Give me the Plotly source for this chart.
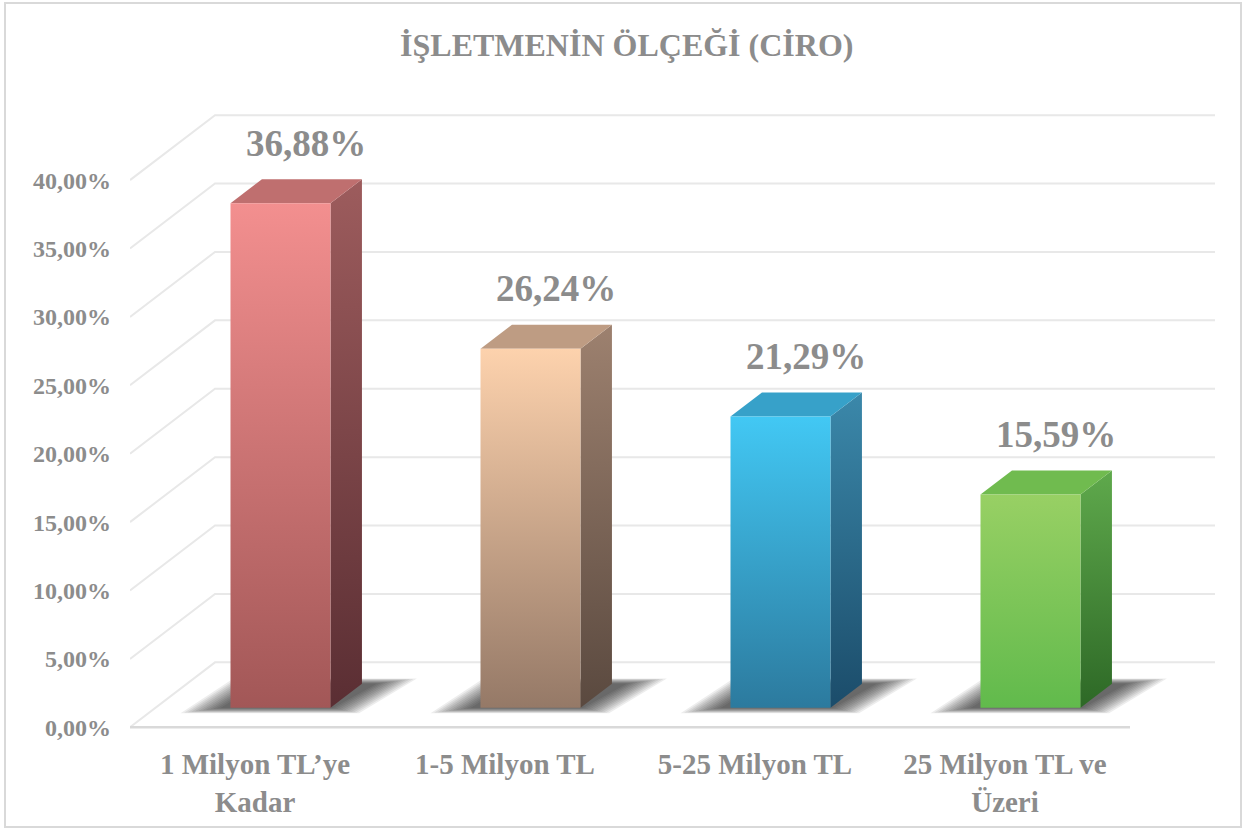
import plotly.graph_objects as go

# ---------------- data ----------------
categories = ["1 Milyon TL’ye<br>Kadar", "1-5 Milyon TL", "5-25 Milyon TL", "25 Milyon TL ve<br>Üzeri"]
values = [36.88, 26.24, 21.29, 15.59]
value_labels = ["36,88%", "26,24%", "21,29%", "15,59%"]
y_ticks = [0, 5, 10, 15, 20, 25, 30, 35, 40]
y_tick_labels = ["0,00%", "5,00%", "10,00%", "15,00%", "20,00%", "25,00%", "30,00%", "35,00%", "40,00%"]
title_text = "İŞLETMENİN ÖLÇEĞİ (CİRO)"

# ---------------- styles ----------------
front_top = ["#f38f8f", "#fdd2ad", "#42c8f4", "#98d064"]
front_bottom = ["#a25757", "#957967", "#2c7a9e", "#61ba4c"]
top_colors = ["#bf6f6f", "#be9c83", "#37a1c9", "#70bb4f"]
side_top = ["#9d5c5d", "#9d816f", "#3b88aa", "#5fa94c"]
side_bottom = ["#5a2e33", "#5a493f", "#1b4c6a", "#2d6826"]
text_color = "#8c8c8c"
grid_color = "#e8e8e8"
serif = "Liberation Serif, Times New Roman, serif"

# oblique projection of the 3-D box (depth f in 0..1)
DX, DY = 0.34, 4.75          # shift at full depth, in x-units / y-units
F0, F1 = 0.30, 0.67          # front / back depth of the bars
HALF_W = 0.2                 # half bar width in category units
n = len(values)


def proj(x, v, f):
    return x + DX * f, v + DY * f


def poly(points):
    xs, ys = [], []
    for (x, v, f) in points:
        px, py = proj(x, v, f)
        xs.append(px)
        ys.append(py)
    xs.append(xs[0])
    ys.append(ys[0])
    return xs, ys


fig = go.Figure()

# ---------------- walls / gridlines ----------------
gx, gy = [], []
for t in y_ticks:
    for (x, f) in [(0, 0), (0, 1), (n, 1)]:
        px, py = proj(x, t, f)
        gx.append(px)
        gy.append(py)
    gx.append(None)
    gy.append(None)
fig.add_trace(go.Scatter(x=gx, y=gy, mode="lines", line=dict(color=grid_color, width=2),
                         hoverinfo="skip", showlegend=False))
# floor front edge
fx, fy = [], []
for (x, f) in [(0, 0), (n, 0)]:
    px, py = proj(x, 0, f)
    fx.append(px)
    fy.append(py)
fig.add_trace(go.Scatter(x=fx, y=fy, mode="lines", line=dict(color="#d9d9d9", width=2.5),
                         hoverinfo="skip", showlegend=False))

# ---------------- shadows (layered soft shadow) ----------------
for i, v in enumerate(values):
    c = i + 0.5
    x0, x1 = c - HALF_W, c + HALF_W
    for k in range(12):
        ex = 0.01 + 0.012 * k
        ef = 0.005 + 0.007 * k
        xs, ys = poly([(x0 - ex - 0.03, 0, F0 - ef), (x1 + ex, 0, F0 - ef),
                       (x1 + ex + 0.05, 0, F1 + ef), (x0 - ex, 0, F1 + ef)])
        fig.add_trace(go.Scatter(x=xs, y=ys, mode="none", fill="toself",
                                 fillcolor="rgba(15,15,15,0.075)",
                                 hoverinfo="skip", showlegend=False))

# ---------------- bars ----------------
for i, v in enumerate(values):
    c = i + 0.5
    x0, x1 = c - HALF_W, c + HALF_W
    # side face
    xs, ys = poly([(x1, 0, F0), (x1, 0, F1), (x1, v, F1), (x1, v, F0)])
    fig.add_trace(go.Scatter(x=xs, y=ys, mode="lines", fill="toself", line=dict(width=0),
                             fillgradient=dict(type="vertical",
                                               colorscale=[[0, side_bottom[i]], [1, side_top[i]]]),
                             hoverinfo="skip", showlegend=False))
    # top face
    xs, ys = poly([(x0, v, F0), (x1, v, F0), (x1, v, F1), (x0, v, F1)])
    fig.add_trace(go.Scatter(x=xs, y=ys, mode="lines", fill="toself", line=dict(width=0),
                             fillcolor=top_colors[i], hoverinfo="skip", showlegend=False))
    # front face
    xs, ys = poly([(x0, 0, F0), (x1, 0, F0), (x1, v, F0), (x0, v, F0)])
    fig.add_trace(go.Scatter(x=xs, y=ys, mode="lines", fill="toself", line=dict(width=0),
                             fillgradient=dict(type="vertical",
                                               colorscale=[[0, front_bottom[i]], [1, front_top[i]]]),
                             hoverinfo="skip", showlegend=False))

# ---------------- data labels ----------------
lx, ly = [], []
for i, v in enumerate(values):
    px, py = proj(i + 0.5, v, 0.6)
    lx.append(px)
    ly.append(v + DY * F1 + 2.4)
fig.add_trace(go.Scatter(x=lx, y=ly, mode="text", text=value_labels, textposition="middle center",
                         textfont=dict(family=serif, size=37, color=text_color, weight="bold"),
                         hoverinfo="skip", showlegend=False, cliponaxis=False))

# ---------------- layout ----------------
W, H = 1246, 829
ML, MR, MT, MB = 130, 20, 60, 88
PX_PER_X = 250.0
PX_PER_Y = 13.68
plot_w = W - ML - MR
plot_h = H - MT - MB
y_min = -1.0
y_max = y_min + plot_h / PX_PER_Y


def paper_x(px):
    return (px - ML) / plot_w


def paper_y(py):
    return (H - MB - py) / plot_h


fig.update_layout(
    width=W, height=H,
    margin=dict(l=ML, r=MR, t=MT, b=MB, autoexpand=False),
    paper_bgcolor="white", plot_bgcolor="white",
    showlegend=False,
    title=dict(text=title_text, x=0.503, xanchor="center", y=1 - 45 / H, yanchor="middle",
               font=dict(family=serif, size=32, color=text_color, weight="bold")),
    xaxis=dict(range=[0, plot_w / PX_PER_X], tickvals=[i + 0.5 for i in range(n)], ticktext=categories,
               showgrid=False, zeroline=False, showline=False, ticks="", ticklabelstandoff=3,
               automargin=False,
               tickfont=dict(family=serif, size=29, color=text_color, weight="bold"), fixedrange=True),
    yaxis=dict(range=[y_min, y_max], tickvals=y_ticks, ticktext=y_tick_labels,
               showgrid=False, zeroline=False, showline=False, ticks="", ticklabelstandoff=18,
               automargin=False,
               tickfont=dict(family=serif, size=24, color=text_color, weight="bold"), fixedrange=True),
    shapes=[dict(type="rect", xref="paper", yref="paper",
                 x0=paper_x(5), x1=paper_x(1241), y0=paper_y(827), y1=paper_y(3),
                 line=dict(color="#d9d9d9", width=2), fillcolor="rgba(0,0,0,0)", layer="below")],
)

fig.write_html("out.html", config={"displayModeBar": False},
               post_script="document.body.style.margin='0';document.body.style.overflow='hidden';")
